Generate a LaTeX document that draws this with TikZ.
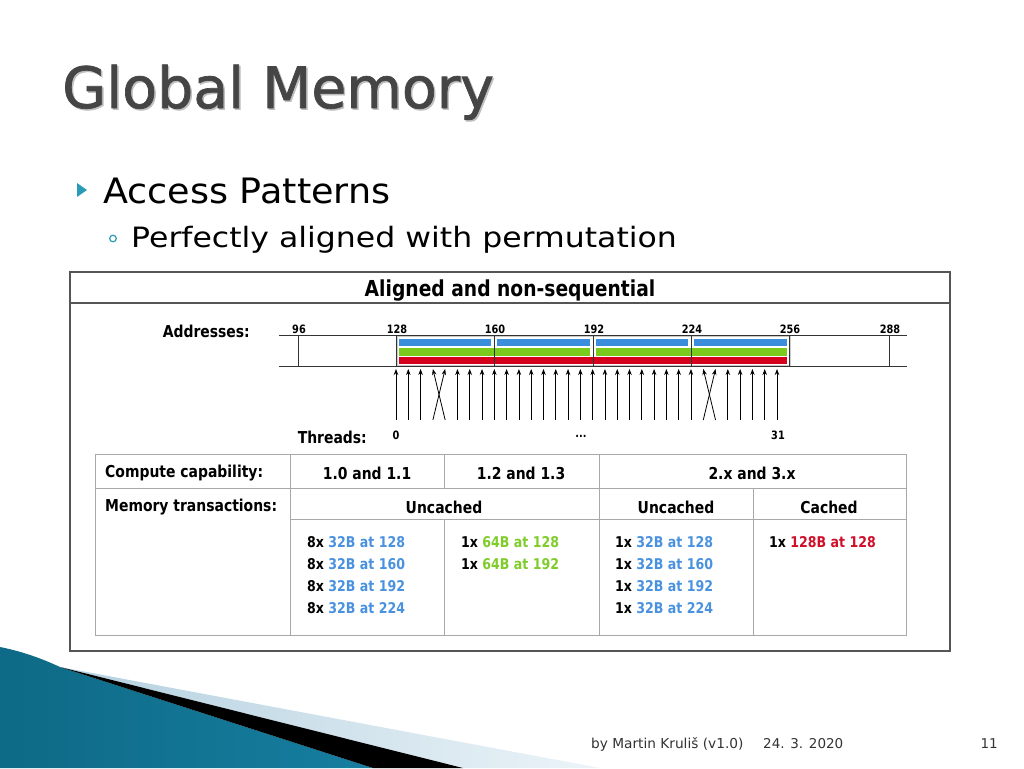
\documentclass[tikz,border=0pt]{standalone}
\usepackage{fontspec}
\setmainfont{DejaVu Sans}
\newfontfamily\figfont[FakeStretch=0.85]{DejaVu Sans}
\newfontfamily\titlefont[FakeBold=1.2]{DejaVu Sans}
\usetikzlibrary{arrows.meta}
\definecolor{titlegray}{HTML}{454545}
\definecolor{teal1}{HTML}{2A9BB7}
\definecolor{barblue}{HTML}{3A8EDC}
\definecolor{bargreen}{HTML}{7BCB1C}
\definecolor{barred}{HTML}{D4001C}
\definecolor{txtblue}{HTML}{4A92E0}
\definecolor{txtgreen}{HTML}{80CC2A}
\definecolor{txtred}{HTML}{D0102A}
\definecolor{tblgray}{HTML}{A8A8A8}
\definecolor{framegray}{HTML}{555555}
\definecolor{decoA}{RGB}{14,106,134}
\definecolor{decoB}{RGB}{66,172,206}
\definecolor{decoC}{RGB}{22,126,160}
\definecolor{paleA}{RGB}{180,208,224}
\definecolor{paleB}{RGB}{236,244,248}
\begin{document}
\begin{tikzpicture}[x=1pt,y=-1pt,
  fig/.style={font=\figfont\bfseries\fontsize{16.4}{18}\selectfont, inner sep=0pt},
  addr/.style={font=\figfont\bfseries\fontsize{11.5}{12}\selectfont, inner sep=0pt},
  entry/.style={font=\figfont\bfseries\fontsize{14.8}{16}\selectfont, inner sep=0pt, anchor=west},
  tbl/.style={draw=tblgray, line width=1pt},
  tick/.style={draw=black!80, line width=1pt},
  thr/.style={draw=black, line width=0.8pt, -{Stealth[length=6pt,width=4.5pt]}}
]
\useasboundingbox (0,0) rectangle (1024,768);
\fill[white] (0,0) rectangle (1024,768);

% ---- bottom-left decoration
\shade[left color=decoA, middle color=decoB, right color=decoC]
  (0,647) .. controls (25,652) and (45,660) .. (60,667) -- (373,768) -- (0,768) -- cycle;
\shade[left color=paleA, right color=paleB]
  (60,667) -- (600,768) -- (463,768) -- cycle;
\fill[black] (60,667) -- (463,768) -- (373,768) -- cycle;

% ---- slide title and bullets
\node[anchor=base west, inner sep=0pt, text=black!25, font=\titlefont\fontsize{57}{60}\selectfont] (titleshadow) at (63.5,109.5) {Global Memory};
\node[anchor=base west, inner sep=0pt, text=titlegray, font=\titlefont\fontsize{57}{60}\selectfont] (title) at (62,108) {Global Memory};
\fill[teal1] (77,183) -- (87,190) -- (77,197) -- cycle;
\node[anchor=base west, inner sep=0pt, font=\fontsize{35}{38}\selectfont] (b1) at (103,203) {\scalebox{1.044}[1]{Access Patterns}};
\draw[teal1, line width=1.2pt] (113,238.5) circle (3.3);
\node[anchor=base west, inner sep=0pt, font=\fontsize{28}{30}\selectfont] (b2) at (131,247.5) {\scalebox{1.126}[1]{Perfectly aligned with permutation}};

% ---- figure frame
\draw[framegray, line width=1.3pt] (70,272) rectangle (950,651);
\draw[framegray, line width=1.3pt] (70,303) -- (950,303);
\node[fig, font=\figfont\bfseries\fontsize{22}{24}\selectfont] (ftitle) at (510,291) {Aligned and non-sequential};

% ---- addresses
\node[fig, anchor=east] (addrlbl) at (250,331) {Addresses:};
% bars
\fill[barblue] (399,338.5) rectangle (491,346);
\fill[barblue] (497,338.5) rectangle (590,346);
\fill[barblue] (596,338.5) rectangle (688,346);
\fill[barblue] (694,338.5) rectangle (787,346);
\fill[bargreen] (399,348) rectangle (590,355.5);
\fill[bargreen] (596,348) rectangle (787,355.5);
\fill[barred] (399,357) rectangle (787,364);
\draw[tblgray!60, line width=0.8pt] (397,336.5) rectangle (790,365.5);
% address lines
\draw[tick] (279,335) -- (907,335);
\draw[tick] (279,366) -- (907,366);
\foreach \x/\lab in {298/96,396/128,494/160,593/192,691/224,789/256,889/288}{
  \draw[tick] (\x,335) -- (\x,366);
  \node[addr] (al\lab) at (\x+1,329) {\lab};
}

% ---- threads
\foreach \i in {0,...,31}{
  \coordinate (tb\i) at ({396+\i*12.29},420);
  \coordinate (ta\i) at ({396+\i*12.29},369);
}
\foreach \i in {0,...,31}{
  \pgfmathtruncatemacro\j{\i==3 ? 4 : (\i==4 ? 3 : (\i==25 ? 26 : (\i==26 ? 25 : \i)))}
  \draw[thr] (tb\i) -- (ta\j);
}
\node[fig, anchor=east] (thrlbl) at (367,437) {Threads:};
\node[addr] (t0) at (396,435) {0};
\node[addr] (tdots) at (581,436) {...};
\node[addr] (t31) at (778,435) {31};

% ---- table
\draw[tbl] (95,454) rectangle (906,635);
\draw[tbl] (95,488) -- (906,488);
\draw[tbl] (290,519) -- (906,519);
\draw[tbl] (290,454) -- (290,635);
\draw[tbl] (444,454) -- (444,488);
\draw[tbl] (444,519) -- (444,635);
\draw[tbl] (599,454) -- (599,635);
\draw[tbl] (753,488) -- (753,635);

\node[fig, anchor=west] (cc) at (105,473) {Compute capability:};
\node[fig] (c1) at (367,473) {1.0 and 1.1};
\node[fig] (c2) at (521,473) {1.2 and 1.3};
\node[fig] (c3) at (752,473) {2.x and 3.x};
\node[fig, anchor=west] (mt) at (105,507) {Memory transactions:};
\node[fig] (u1) at (444,507) {Uncached};
\node[fig] (u2) at (676,507) {Uncached};
\node[fig] (ca) at (829,507) {Cached};

\foreach \k/\y/\a in {0/542/128,1/564/160,2/586/192,3/608/224}{
  \node[entry] (ea\k) at (307,\y) {8x \textcolor{txtblue}{32B at \a}};
  \node[entry] (ec\k) at (615,\y) {1x \textcolor{txtblue}{32B at \a}};
}
\node[entry] (eb0) at (461,542) {1x \textcolor{txtgreen}{64B at 128}};
\node[entry] (eb1) at (461,564) {1x \textcolor{txtgreen}{64B at 192}};
\node[entry] (ed0) at (769,542) {1x \textcolor{txtred}{128B at 128}};

% ---- footer
\node[anchor=base west, inner sep=0pt, text=black!80, font=\fontsize{13.7}{15}\selectfont] (f1) at (591,748) {by Martin Kruliš (v1.0)};
\node[anchor=base west, inner sep=0pt, text=black!80, font=\fontsize{13.5}{15}\selectfont] (f2) at (763,748) {24. 3. 2020};
\node[anchor=base east, inner sep=0pt, text=black!80, font=\fontsize{13.5}{15}\selectfont] (f3) at (998,748) {11};
\end{tikzpicture}
\end{document}
